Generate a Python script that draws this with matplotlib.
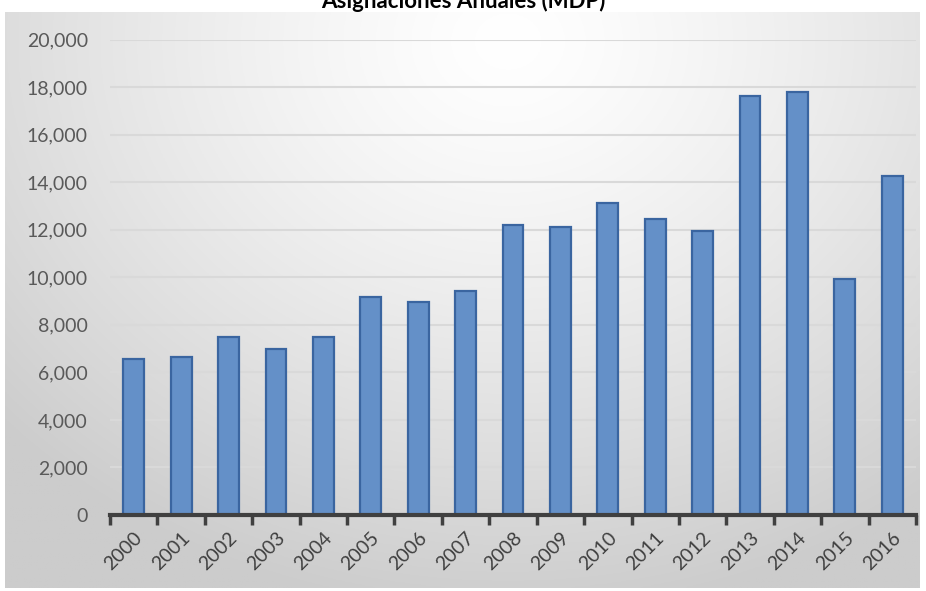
import matplotlib.pyplot as plt
import numpy as np
from matplotlib.ticker import FuncFormatter

years = ["2000", "2001", "2002", "2003", "2004", "2005", "2006", "2007", "2008",
         "2009", "2010", "2011", "2012", "2013", "2014", "2015", "2016"]
montos = [6570, 6660, 7470, 6980, 7470, 9180, 8940, 9430, 12210,
          12120, 13110, 12460, 11960, 17620, 17790, 9910, 14260]
yticks = [0, 2000, 4000, 6000, 8000, 10000, 12000, 14000, 16000, 18000, 20000]

plt.rcParams['font.family'] = ['Lato', 'DejaVu Sans']

W, H = 926, 591
fig = plt.figure(figsize=(W / 100, H / 100), dpi=100)
fig.patch.set_facecolor("white")

# fondo con gradiente radial (estilo Excel)
bg = fig.add_axes([5 / W, 3 / H, 915 / W, 576 / H])
gx, gy = np.meshgrid(np.linspace(0, 1, 400), np.linspace(0, 1, 300))
r = np.sqrt(((gx - 0.55) / 0.75) ** 2 + ((gy - 0.05) / 1.0) ** 2)
r = np.clip(r, 0, 1)
shade = 1.0 - 0.2 * r ** 1.3
bg.imshow(np.dstack([shade] * 3), aspect="auto", extent=[0, 1, 1, 0])
bg.set_axis_off()

ax = fig.add_axes([110 / W, (H - 515) / H, 806 / W, (515 - 39.5) / H])
ax.patch.set_alpha(0)

x = np.arange(len(years))
ax.bar(x, montos, width=0.44, color="#6490c8", edgecolor="#3a65a0",
       linewidth=1.6, zorder=3)

ax.set_xlim(-0.5, len(years) - 0.5)
ax.set_ylim(0, 20000)
ax.set_yticks(yticks)
ax.yaxis.set_major_formatter(FuncFormatter(lambda v, p: f"{int(v):,}"))
ax.grid(axis="y", color="#d9d9d9", linewidth=1.5, zorder=0)

for s in ["left", "right", "top"]:
    ax.spines[s].set_visible(False)
ax.spines["bottom"].set_color("#404040")
ax.spines["bottom"].set_linewidth(3)
ax.spines["bottom"].set_zorder(4)

ax.tick_params(axis="y", length=0, pad=16, labelsize=14, labelcolor="#595959")
ax.set_xticks(x)
ax.set_xticklabels(years, rotation=45, ha="right", va="top",
                   rotation_mode="anchor", fontsize=14, color="#404040")
ax.tick_params(axis="x", which="major", length=0, pad=10)
ax.set_xticks(np.arange(-0.5, len(years)), minor=True)
ax.tick_params(axis="x", which="minor", length=7, width=2.5,
               color="#404040", direction="out")

fig.text(0.5, 1 - 8 / H, "Asignaciones Anuales (MDP)", ha="center",
         va="baseline", fontsize=16, fontweight="bold", color="#000000")

fig.savefig("out.png", dpi=100)
